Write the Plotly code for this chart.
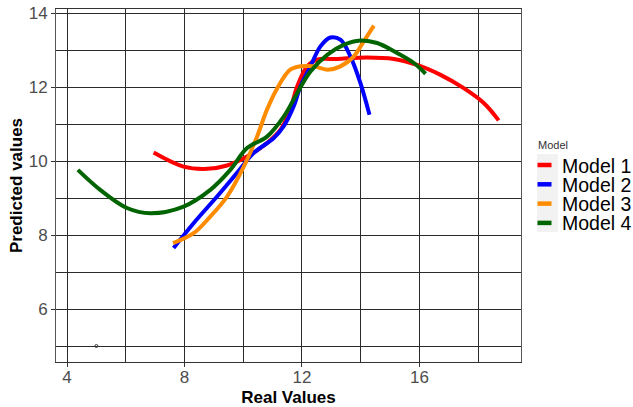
import plotly.graph_objects as go

# ---- data ----
model_names = ["Model 1", "Model 2", "Model 3", "Model 4"]
model_colors = ["#FF0000", "#0000FF", "#FF8C00", "#006400"]

m1_x = [6.95, 7.97, 8.77, 9.45, 10.13, 10.81, 11.27, 11.6, 11.84, 12.18, 12.52, 13.2, 14.22, 15.13, 15.92, 16.72, 17.51, 18.19, 18.7]
m1_y = [10.23, 9.85, 9.79, 9.88, 10.12, 10.49, 10.85, 11.39, 12.02, 12.56, 12.74, 12.76, 12.8, 12.76, 12.6, 12.33, 11.97, 11.57, 11.1]

m2_x = [7.63, 8.31, 9.11, 9.79, 10.36, 11.04, 11.38, 11.72, 11.95, 12.29, 12.63, 12.97, 13.31, 13.65, 13.99, 14.3]
m2_y = [7.65, 8.32, 9.04, 9.68, 10.22, 10.62, 10.94, 11.48, 12.02, 12.56, 13.1, 13.34, 13.28, 12.83, 12.11, 11.25]

m3_x = [7.61, 8.31, 8.88, 9.45, 10.02, 10.47, 10.81, 11.16, 11.6, 11.95, 12.4, 12.86, 13.31, 13.77, 14.1, 14.45]
m3_y = [7.78, 8.05, 8.5, 9.04, 9.85, 10.66, 11.39, 11.97, 12.47, 12.56, 12.56, 12.47, 12.56, 12.83, 13.23, 13.66]

m4_x = [4.37, 5.13, 6.04, 6.84, 7.97, 8.88, 9.56, 10.13, 10.81, 11.38, 11.84, 12.29, 12.86, 13.42, 13.99, 14.56, 15.24, 15.81, 16.21]
m4_y = [9.76, 9.22, 8.73, 8.59, 8.77, 9.22, 9.76, 10.35, 10.66, 11.2, 11.84, 12.42, 12.87, 13.14, 13.26, 13.19, 12.92, 12.65, 12.36]

stray_x = [5.0]
stray_y = [5.0]

x_range = [3.625, 19.46]
y_range = [4.568, 14.11]
x_ticks = [4, 8, 12, 16]
y_ticks = [6, 8, 10, 12, 14]
legend_title = "Model"

series_x = [m1_x, m2_x, m3_x, m4_x]
series_y = [m1_y, m2_y, m3_y, m4_y]

FONT = "Liberation Sans, Arial, sans-serif"

# plot-area geometry in pixels
W, H = 633, 407
ML, MR, MT, MB = 56, 112, 9, 45
PW = W - ML - MR
PH = H - MT - MB


def px_x(p):
    # figure pixel -> paper coordinate
    return (p - ML) / PW


def px_y(p):
    return (H - MB - p) / PH


fig = go.Figure()

for name, col, xs, ys in zip(model_names, model_colors, series_x, series_y):
    fig.add_trace(go.Scatter(
        x=xs, y=ys, mode="lines", name=name, showlegend=False,
        line=dict(color=col, width=4, shape="spline", smoothing=1.0),
    ))

fig.add_trace(go.Scatter(
    x=stray_x, y=stray_y, mode="markers", showlegend=False, name="",
    marker=dict(symbol="circle-open", size=3, color="#333333", line=dict(width=1)),
))

# ---- manual legend (key background, keys, labels) ----
shapes = []
annotations = []
shapes.append(dict(type="rect", xref="paper", yref="paper",
                   x0=px_x(537), x1=px_x(558), y0=px_y(232), y1=px_y(154),
                   fillcolor="#f2f2f2", line=dict(width=0), layer="below"))
annotations.append(dict(text=legend_title, xref="paper", yref="paper",
                        x=px_x(536), y=px_y(145), xanchor="left", yanchor="middle",
                        showarrow=False, font=dict(size=11, color="#333333", family=FONT)))
row_y = [165, 184.3, 203.6, 222.9]
for name, col, ry in zip(model_names, model_colors, row_y):
    shapes.append(dict(type="line", xref="paper", yref="paper",
                       x0=px_x(537.5), x1=px_x(551.5), y0=px_y(ry), y1=px_y(ry),
                       line=dict(color=col, width=4.5)))
    annotations.append(dict(text=name, xref="paper", yref="paper",
                            x=px_x(560), y=px_y(ry + 0.5), xanchor="left", yanchor="middle",
                            showarrow=False, font=dict(size=19.5, color="#000000", family=FONT)))

grid_col = "#2b2b2b"
fig.update_layout(
    width=W, height=H,
    margin=dict(l=ML, r=MR, t=MT, b=MB, autoexpand=False),
    paper_bgcolor="white", plot_bgcolor="white",
    font=dict(family=FONT, color="#000000"),
    showlegend=False,
    hovermode=False,
    shapes=shapes,
    annotations=annotations,
    xaxis=dict(
        range=x_range, tickvals=x_ticks, ticks="outside", ticklen=4, tickcolor="#333333",
        tickfont=dict(size=17, color="#4d4d4d"), ticklabelstandoff=-4,
        ticklabeloverflow="allow",
        showgrid=True, gridcolor=grid_col, gridwidth=1,
        minor=dict(dtick=2, tick0=0, showgrid=True, gridcolor=grid_col, gridwidth=1),
        showline=True, linecolor="#333333", linewidth=1, mirror=True,
        zeroline=False, automargin=False,
        title=dict(text="<b>Real Values</b>", font=dict(size=17, color="#000000"), standoff=4),
    ),
    yaxis=dict(
        range=y_range, tickvals=y_ticks, ticks="outside", ticklen=4, tickcolor="#333333",
        tickfont=dict(size=17, color="#4d4d4d"), ticklabeloverflow="allow",
        showgrid=True, gridcolor=grid_col, gridwidth=1,
        minor=dict(dtick=1, tick0=0, showgrid=True, gridcolor=grid_col, gridwidth=1),
        showline=True, linecolor="#555555", linewidth=1, mirror=True,
        zeroline=False, automargin=False,
        title=dict(text="<b>Predicted values</b>", font=dict(size=17, color="#000000"), standoff=1),
    ),
)

# remove the browser's default 8px page margin so the figure fills the window exactly
fig.write_html(
    "out.html",
    config={"displayModeBar": False},
    post_script="document.body.style.margin='0';document.body.style.overflow='hidden';",
)
